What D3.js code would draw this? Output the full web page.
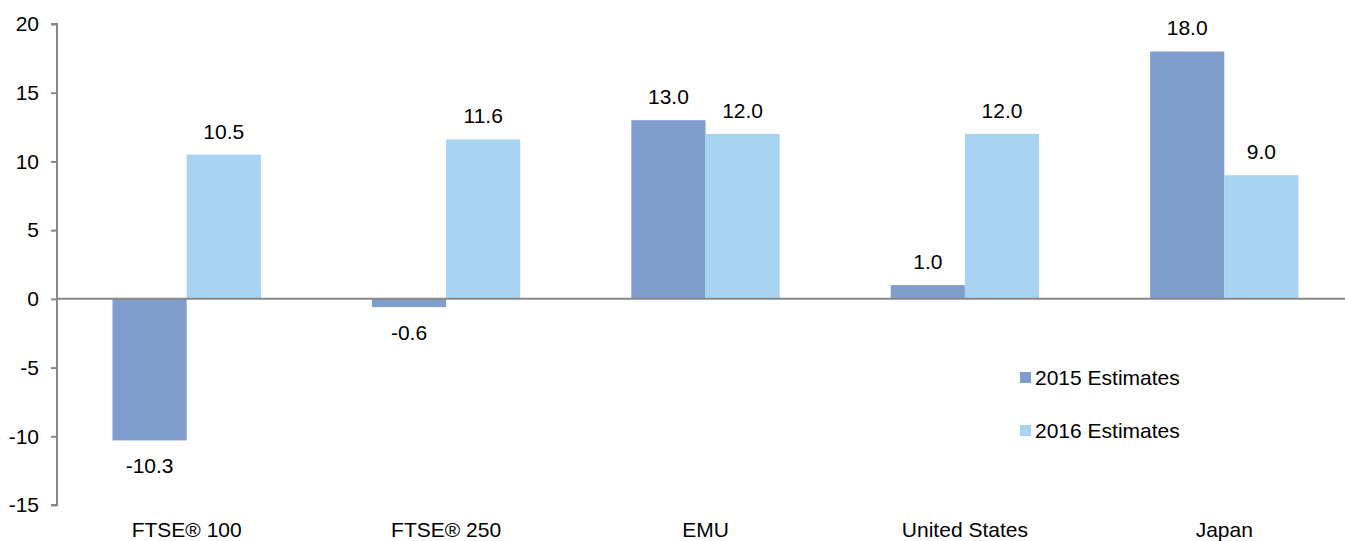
<!DOCTYPE html>
<html>
<head>
<meta charset="utf-8">
<script src="https://cdn.jsdelivr.net/npm/d3@7/dist/d3.min.js"></script>
<style>
  html, body { margin: 0; padding: 0; background: #fff; }
  svg { display: block; font-family: Arial, "Liberation Sans", sans-serif; }
</style>
</head>
<body>
<svg id="chart" width="1345" height="541"></svg>
<script>
// Earnings growth estimates by market (%)
const categories = ["FTSE\u00AE 100", "FTSE\u00AE 250", "EMU", "United States", "Japan"];
const seriesNames = ["2015 Estimates", "2016 Estimates"];
const est2015 = [-10.3, -0.6, 13.0, 1.0, 18.0];
const est2016 = [10.5, 11.6, 12.0, 12.0, 9.0];
const yTicks = [20, 15, 10, 5, 0, -5, -10, -15];
const colors = ["#7f9ecb", "#a8d4f1"];

const series = [est2015, est2016];
const svg = d3.select("#chart");
const fontSize = 21;

const plotLeft = 57, plotRight = 1354, plotTop = 24, plotBottom = 505;

const x0 = d3.scaleBand().domain(categories).range([plotLeft, plotRight])
  .paddingInner(0.428).paddingOuter(0.214);
const x1 = d3.scaleBand().domain(seriesNames).range([0, x0.bandwidth()]);
const y = d3.scaleLinear().domain([-15, 20]).range([plotBottom, plotTop]);

// plain hyphen for negative numbers
const fmt1 = v => v.toFixed(1);

// bars with value labels
categories.forEach((c, i) => {
  seriesNames.forEach((s, j) => {
    const v = series[j][i];
    svg.append("rect")
      .attr("x", x0(c) + x1(s))
      .attr("y", y(Math.max(0, v)))
      .attr("width", x1.bandwidth())
      .attr("height", Math.abs(y(v) - y(0)))
      .attr("fill", colors[j]);
    svg.append("text")
      .attr("x", x0(c) + x1(s) + x1.bandwidth() / 2)
      .attr("y", v >= 0 ? y(v) - 16 : y(v) + 33)
      .attr("text-anchor", "middle")
      .attr("font-size", fontSize)
      .attr("fill", "#000")
      .text(fmt1(v));
  });
});

// y axis
const yAxis = d3.axisLeft(y).tickValues(yTicks).tickSize(6).tickPadding(12)
  .tickFormat(d => String(d));
const gy = svg.append("g").attr("transform", `translate(${plotLeft},0)`).call(yAxis);
gy.select(".domain").attr("stroke", "#888").attr("stroke-width", 2)
  .attr("d", `M-6,${y(20)}H0V${y(-15)}H-6`);
gy.selectAll(".tick line").attr("stroke", "#888").attr("stroke-width", 2);
gy.selectAll(".tick text").attr("font-size", fontSize).attr("fill", "#000")
  .attr("font-family", "Arial, 'Liberation Sans', sans-serif");

// zero line
svg.append("line")
  .attr("x1", plotLeft).attr("x2", plotRight)
  .attr("y1", y(0)).attr("y2", y(0))
  .attr("stroke", "#888").attr("stroke-width", 2);

// category labels
svg.selectAll(".cat").data(categories).enter().append("text")
  .attr("x", d => x0(d) + x0.bandwidth() / 2)
  .attr("y", 537)
  .attr("text-anchor", "middle")
  .attr("font-size", fontSize)
  .attr("fill", "#000")
  .text(d => d);

// legend
const legend = svg.append("g");
seriesNames.forEach((s, j) => {
  const ly = 372 + j * 53;
  legend.append("rect").attr("x", 1020).attr("y", ly).attr("width", 11).attr("height", 11)
    .attr("fill", colors[j]);
  legend.append("text").attr("x", 1035).attr("y", ly + 13)
    .attr("font-size", fontSize).attr("fill", "#000").text(s);
});
</script>
</body>
</html>
